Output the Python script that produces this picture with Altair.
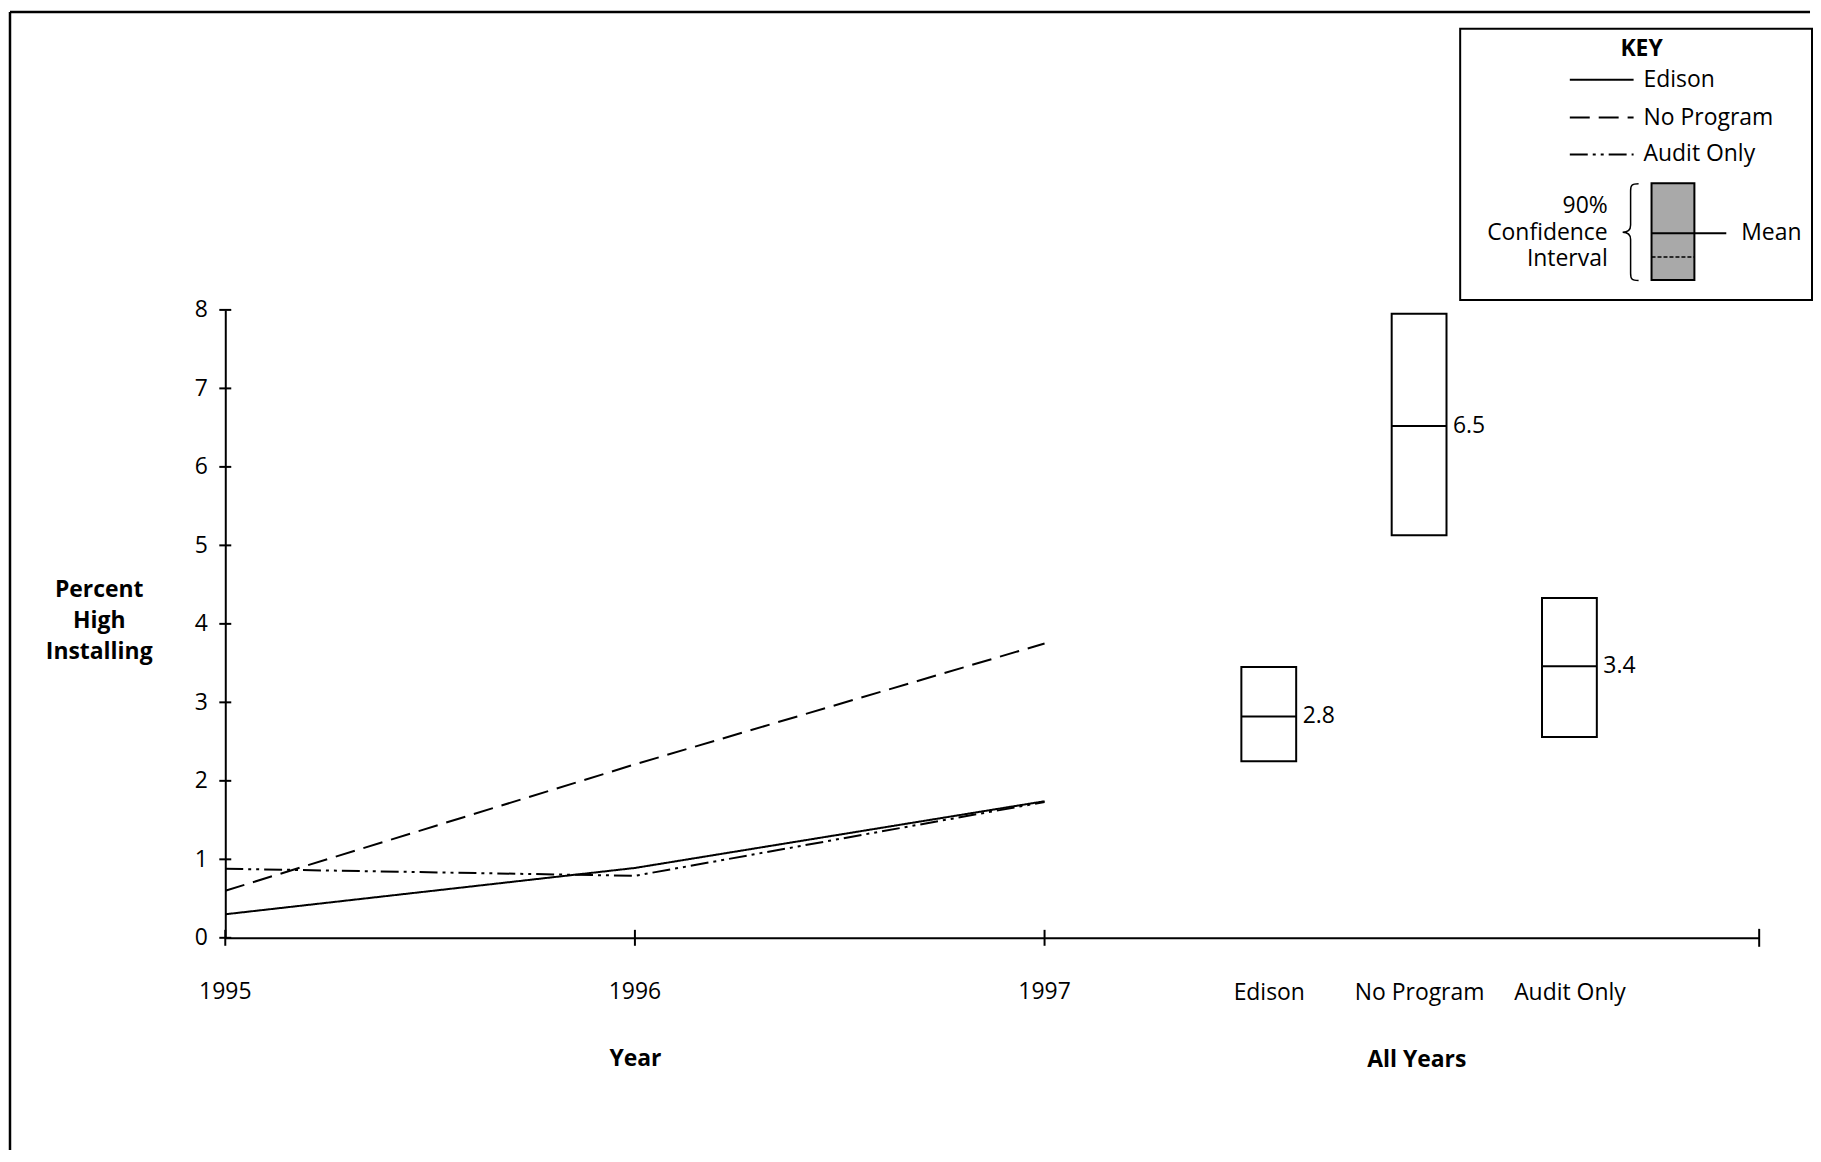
import altair as alt
import pandas as pd

FONT = "Open Sans"
FS = 23

# ---- data ----
years = [1995, 1996, 1997]
series_names = ["Edison", "No Program", "Audit Only"]
edison = [0.30, 0.89, 1.74]
no_program = [0.60, 2.21, 3.75]
audit_only = [0.88, 0.79, 1.73]
y_ticks = [0, 1, 2, 3, 4, 5, 6, 7, 8]

categories = ["Edison", "No Program", "Audit Only"]
ci_low = [2.25, 5.13, 2.56]
ci_high = [3.45, 7.95, 4.33]
means = [2.82, 6.52, 3.46]
mean_labels = ["2.8", "6.5", "3.4"]

lines_df = pd.DataFrame({
    "year": years * 3,
    "value": edison + no_program + audit_only,
    "series": [s for s in series_names for _ in years],
})
year_df = pd.DataFrame({"year": years, "label": [str(y) for y in years]})
cat_df = pd.DataFrame({"cat": categories, "lo": ci_low, "hi": ci_high,
                       "mean": means, "label": mean_labels})
dummy = pd.DataFrame({"a": [0]})

dash_range = [[1, 0], [20, 9], [18, 5, 3, 5, 3, 5]]

xs = alt.Scale(domain=[1995, 1997], nice=False, zero=False)
ys = alt.Scale(domain=[0, 8], nice=False, zero=False)

W_L, W_R, H = 822, 717, 630

ax_x = alt.Axis(values=years, labels=False, ticks=False, grid=False,
                title="Year", titlePadding=110,
                domainWidth=2, domainColor="black",
                titleFontSize=FS, titleFontWeight="bold")
ax_y = alt.Axis(values=y_ticks, format="d", ticks=False, grid=False, labelPadding=18,
                labelFlush=False, labelOverlap=False,
                domainWidth=2, domainColor="black",
                title=["Percent", "High", "Installing"], titleAngle=0,
                titleAlign="center", titleBaseline="top",
                titleX=-127, titleY=270, titleLineHeight=31,
                labelFontSize=FS, titleFontSize=FS, titleFontWeight="bold")

# ---- left panel ----
lines = alt.Chart(lines_df).mark_line(strokeWidth=2, color="black").encode(
    x=alt.X("year:Q", scale=xs, axis=ax_x),
    y=alt.Y("value:Q", scale=ys, axis=ax_y),
    strokeDash=alt.StrokeDash("series:N",
                              scale=alt.Scale(domain=series_names, range=dash_range),
                              legend=None),
)

xtick = alt.Chart(year_df).mark_tick(
    orient="vertical", size=16, thickness=2, color="black", opacity=1).encode(
    x=alt.X("year:Q", scale=xs, axis=ax_x),
    y=alt.YDatum(0, type="quantitative", scale=ys, axis=ax_y))

xlabels = alt.Chart(year_df).mark_text(
    baseline="middle", align="center", dy=54, font=FONT, fontSize=FS,
    color="black").encode(
    x=alt.X("year:Q", scale=xs, axis=ax_x),
    y=alt.YDatum(0, type="quantitative", scale=ys, axis=ax_y),
    text="label:N")

ytick = alt.Chart(pd.DataFrame({"v": y_ticks})).mark_tick(
    orient="horizontal", size=12, thickness=2, color="black", opacity=1).encode(
    x=alt.XDatum(1995, type="quantitative", scale=xs, axis=ax_x),
    y=alt.Y("v:Q", scale=ys, axis=ax_y))

left_border = alt.Chart(dummy).mark_rule(strokeWidth=2.5, color="black").encode(
    x=alt.value(-216), y=alt.value(-299), y2=alt.value(843))
top_border = alt.Chart(dummy).mark_rule(strokeWidth=2.5, color="black").encode(
    x=alt.value(-216), x2=alt.value(1590), y=alt.value(-299))

left = alt.layer(lines, xtick, xlabels, ytick, left_border, top_border).properties(
    width=W_L, height=H)

# ---- right panel ----
# blank slots at both ends of the category axis give the uneven outer spacing
cat_domain = [" "] + categories + ["  "]
cx = alt.Scale(type="point", domain=cat_domain, padding=0.377, align=0.652)
ax_c = alt.Axis(ticks=False, grid=False, labelPadding=44, labelAngle=0,
                title="All Years", titlePadding=44, titleX=373,
                domainWidth=2, domainColor="black",
                labelFontSize=FS, titleFontSize=FS, titleFontWeight="bold")

boxes = alt.Chart(cat_df).mark_bar(size=55, fill="white", stroke="black",
                                   strokeWidth=2).encode(
    x=alt.X("cat:N", scale=cx, axis=ax_c),
    y=alt.Y("lo:Q", scale=ys, axis=None),
    y2="hi:Q",
)
mean_tick = alt.Chart(cat_df).mark_tick(orient="horizontal", size=55, thickness=2,
                                        color="black", opacity=1).encode(
    x=alt.X("cat:N", scale=cx, axis=ax_c),
    y=alt.Y("mean:Q", scale=ys, axis=None))
mean_text = alt.Chart(cat_df).mark_text(align="left", baseline="middle", dx=34,
                                        font=FONT, fontSize=FS, color="black").encode(
    x=alt.X("cat:N", scale=cx, axis=ax_c),
    y=alt.Y("mean:Q", scale=ys, axis=None),
    text="label:N")

end_tick = alt.Chart(dummy).mark_rule(strokeWidth=2, color="black").encode(
    x=alt.value(W_R), y=alt.value(H - 9), y2=alt.value(H + 9))


# ---- key (custom legend) ----
def txt(s, x, y, align="left", bold=False):
    return alt.Chart(dummy).mark_text(
        align=align, baseline="middle", font=FONT, fontSize=FS, color="black",
        fontWeight="bold" if bold else "normal").encode(
        x=alt.value(x), y=alt.value(y), text=alt.value(s))


def hline(x1, x2, y, dash=None, w=2):
    kw = dict(strokeWidth=w, color="black")
    if dash:
        kw["strokeDash"] = dash
    return alt.Chart(dummy).mark_rule(**kw).encode(
        x=alt.value(x1), x2=alt.value(x2), y=alt.value(y))


key_box = alt.Chart(dummy).mark_rect(fill="white", stroke="black", strokeWidth=2).encode(
    x=alt.value(417), x2=alt.value(770), y=alt.value(-282), y2=alt.value(-10))
ci_box = alt.Chart(dummy).mark_rect(fill="#a9a9a9", stroke="black", strokeWidth=2).encode(
    x=alt.value(609), x2=alt.value(652), y=alt.value(-127), y2=alt.value(-30))
brace_path = ("M0.165,-1 C0.02,-1 0,-0.97 0,-0.85 L0,-0.15 C0,-0.05 -0.06,0 -0.165,0 "
              "C-0.06,0 0,0.05 0,0.15 L0,0.85 C0,0.97 0.02,1 0.165,1")
brace = alt.Chart(dummy).mark_point(shape=brace_path, size=97 * 97, filled=False,
                                    stroke="black", strokeWidth=1.5, opacity=1).encode(
    x=alt.value(588), y=alt.value(-78))

key_layers = [
    key_box,
    txt("KEY", 599, -262, align="center", bold=True),
    hline(527, 591, -231, dash=dash_range[0]),
    txt("Edison", 601, -231),
    hline(527, 591, -193, dash=dash_range[1]),
    txt("No Program", 601, -193),
    hline(527, 591, -156, dash=dash_range[2]),
    txt("Audit Only", 601, -156),
    ci_box,
    hline(609, 684, -77),
    hline(609, 652, -53, dash=[4, 2], w=1.5),
    txt("Mean", 699, -77),
    brace,
    txt("90%", 565, -104, align="right"),
    txt("Confidence", 565, -77, align="right"),
    txt("Interval", 565, -51, align="right"),
]

right = alt.layer(boxes, mean_tick, mean_text, end_tick, *key_layers).properties(
    width=W_R, height=H)

chart = alt.hconcat(left, right, spacing=0, bounds="flush").properties(
    padding=0, background="white"
).configure_view(strokeWidth=0, stroke="transparent").configure_axis(
    labelFont=FONT, titleFont=FONT, labelColor="black", titleColor="black", grid=False
)

chart.save("out.html", embed_options={"renderer": "svg", "actions": False})
